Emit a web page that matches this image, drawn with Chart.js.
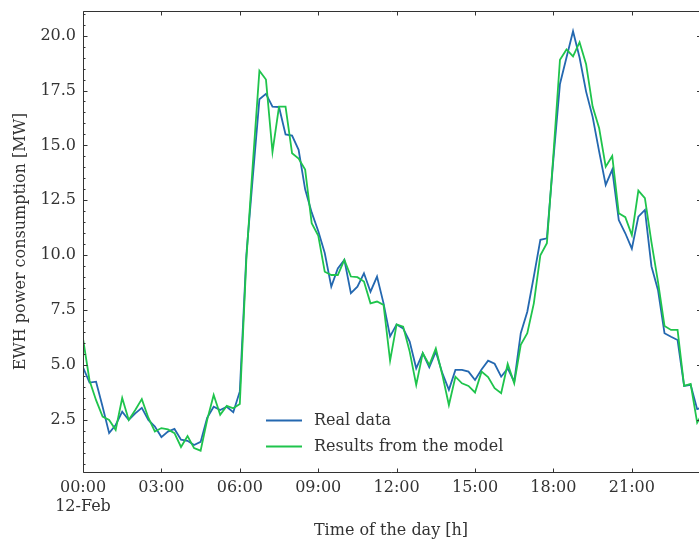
<!DOCTYPE html>
<html>
<head>
<meta charset="utf-8">
<script src="https://cdn.jsdelivr.net/npm/chart.js@4.4.0/dist/chart.umd.min.js"></script>
<style>
html, body { margin: 0; padding: 0; background: #fff; }
canvas { display: block; }
</style>
</head>
<body>
<canvas id="lineChart" width="699" height="542"></canvas>
<script>
// 15 minute samples, 12-Feb
var realData = [4.9, 4.2, 4.24, 3.1, 1.9, 2.27, 2.88, 2.5, 2.8, 3.05, 2.5, 2.2,
    1.72, 1.97, 2.09, 1.6, 1.55, 1.36, 1.5, 2.6, 3.1, 2.95, 3.1, 2.85,
    3.8, 10.0, 13.6, 17.1, 17.35, 16.77, 16.75, 15.5, 15.45, 14.8, 13.0, 11.95,
    11.1, 10.1, 8.57, 9.4, 9.79, 8.27, 8.57, 9.18, 8.34, 9.03, 7.81, 6.3,
    6.85, 6.67, 6.07, 4.85, 5.54, 4.9, 5.61, 4.63, 3.87, 4.78, 4.78, 4.7,
    4.32, 4.8, 5.2, 5.06, 4.47, 4.85, 4.24, 6.45, 7.43, 9.03, 10.7, 10.77,
    14.4, 17.8, 19.0, 20.2, 19.0, 17.45, 16.3, 14.72, 13.2, 13.9, 11.6, 11.0,
    10.3, 11.76, 12.06, 9.5, 8.42, 6.45, 6.29, 6.14, 4.05, 4.1, 2.99, 3.1];
var modelData = [6.2, 4.3, 3.4, 2.65, 2.5, 2.05, 3.5, 2.5, 2.95, 3.45, 2.6, 1.97,
    2.13, 2.07, 1.9, 1.27, 1.77, 1.22, 1.1, 2.5, 3.64, 2.73, 3.14, 3.03,
    3.23, 9.8, 14.2, 18.4, 18.0, 14.7, 16.77, 16.77, 14.64, 14.4, 13.9, 11.46,
    10.9, 9.25, 9.1, 9.1, 9.79, 9.03, 9.0, 8.8, 7.81, 7.89, 7.74, 5.2,
    6.85, 6.75, 5.61, 4.09, 5.54, 5.0, 5.76, 4.55, 3.18, 4.47, 4.17, 4.05,
    3.75, 4.7, 4.45, 3.95, 3.72, 5.05, 4.17, 5.92, 6.45, 7.81, 10.0, 10.55,
    14.6, 18.9, 19.37, 19.05, 19.7, 18.7, 16.77, 15.78, 14.03, 14.52, 11.91, 11.73,
    10.92, 12.94, 12.6, 10.6, 8.8, 6.78, 6.6, 6.6, 4.05, 4.14, 2.38, 2.9];
var stepHours = 0.25;
var xTicks = [0, 3, 6, 9, 12, 15, 18, 21];
var yTicks = [2.5, 5, 7.5, 10, 12.5, 15, 17.5, 20];
var dayLabel = "12-Feb";
var seriesNames = ["Real data", "Results from the model"];

var blue = '#2468b0';
var green = '#1fc44c';
var ink = '#333333';
var serif = '"DejaVu Serif", serif';

function toPoints(arr) {
    return arr.map(function (v, i) { return { x: i * stepHours, y: v }; });
}
function hhmm(h) {
    return (h < 10 ? '0' : '') + h + ':00';
}

// spines + inward ticks (matplotlib look)
var frameTicks = {
    id: 'frameTicks',
    afterDraw: function (chart) {
        var ctx = chart.ctx, a = chart.chartArea;
        var xs = chart.scales.x, ys = chart.scales.y;
        var L = a.left + 0.5, T = a.top + 0.5, B = a.bottom + 0.5, R = a.right;
        ctx.save();
        ctx.strokeStyle = ink;
        ctx.lineWidth = 1;
        ctx.beginPath();
        ctx.moveTo(R, T); ctx.lineTo(L, T); ctx.lineTo(L, B); ctx.lineTo(R, B);
        xTicks.forEach(function (t) {
            var px = Math.round(xs.getPixelForValue(t)) + 0.5;
            ctx.moveTo(px, B); ctx.lineTo(px, B - 4);
            ctx.moveTo(px, T); ctx.lineTo(px, T + 4);
        });
        for (var v = 0.5; v < ys.max; v += 0.5) {
            var py = Math.round(ys.getPixelForValue(v)) + 0.5;
            var major = Math.abs(v / 2.5 - Math.round(v / 2.5)) < 1e-6;
            var len = major ? 4 : 2;
            ctx.moveTo(L, py); ctx.lineTo(L + len, py);
            if (major) { ctx.moveTo(R, py); ctx.lineTo(R - 2, py); }
        }
        ctx.stroke();
        ctx.restore();
    }
};

// legend drawn inside the plot, no frame
var innerLegend = {
    id: 'innerLegend',
    afterDraw: function (chart) {
        var ctx = chart.ctx;
        ctx.save();
        ctx.font = '16px ' + serif;
        ctx.fillStyle = ink;
        ctx.textBaseline = 'middle';
        chart.data.datasets.forEach(function (ds, i) {
            var y = 420.5 + i * 26;
            ctx.strokeStyle = ds.borderColor;
            ctx.lineWidth = ds.borderWidth;
            ctx.beginPath();
            ctx.moveTo(266, y); ctx.lineTo(302, y);
            ctx.stroke();
            ctx.fillText(ds.label, 314, y);
        });
        ctx.restore();
    }
};

var ctxLine = document.getElementById("lineChart").getContext('2d');
var myLineChart = new Chart(ctxLine, {
    type: 'line',
    data: {
        datasets: [{
                label: seriesNames[0],
                data: toPoints(realData),
                borderColor: blue,
                borderWidth: 1.8,
                pointRadius: 0,
                tension: 0,
                order: 1
            }, {
                label: seriesNames[1],
                data: toPoints(modelData),
                borderColor: green,
                borderWidth: 1.8,
                pointRadius: 0,
                tension: 0,
                order: 0
            }]
    },
    options: {
        responsive: false,
        animation: false,
        devicePixelRatio: 1,
        layout: { padding: { top: 11, right: 0, left: 0, bottom: 0 } },
        plugins: {
            legend: { display: false },
            tooltip: { enabled: false }
        },
        scales: {
            x: {
                type: 'linear',
                min: 0,
                max: 23.57,
                grid: { display: false, drawTicks: false },
                border: { display: false },
                afterBuildTicks: function (s) {
                    s.ticks = xTicks.map(function (t) { return { value: t }; });
                },
                afterFit: function (s) {
                    s.height = 70;
                    s.paddingLeft = 0; s.paddingRight = 0;
                },
                ticks: {
                    autoSkip: false,
                    maxRotation: 0,
                    padding: 6,
                    color: ink,
                    font: { family: serif, size: 16 },
                    callback: function (v) {
                        return v === 0 ? [hhmm(v), dayLabel] : hhmm(v);
                    }
                },
                title: {
                    display: true,
                    text: 'Time of the day [h]',
                    color: ink,
                    font: { family: serif, size: 16 },
                    padding: { top: 0, bottom: 2 }
                }
            },
            y: {
                min: 0.13,
                max: 21.12,
                grid: { display: false, drawTicks: false },
                border: { display: false },
                afterBuildTicks: function (s) {
                    s.ticks = yTicks.map(function (t) { return { value: t }; });
                },
                afterFit: function (s) {
                    s.width = 83;
                    s.paddingTop = 0; s.paddingBottom = 0;
                },
                ticks: {
                    padding: 7,
                    color: ink,
                    font: { family: serif, size: 16 },
                    callback: function (v) { return v.toFixed(1); }
                },
                title: {
                    display: true,
                    text: 'EWH power consumption [MW]',
                    color: ink,
                    font: { family: serif, size: 16 },
                    padding: { top: 11, bottom: 0 }
                }
            }
        }
    },
    plugins: [frameTicks, innerLegend]
});
</script>
</body>
</html>
